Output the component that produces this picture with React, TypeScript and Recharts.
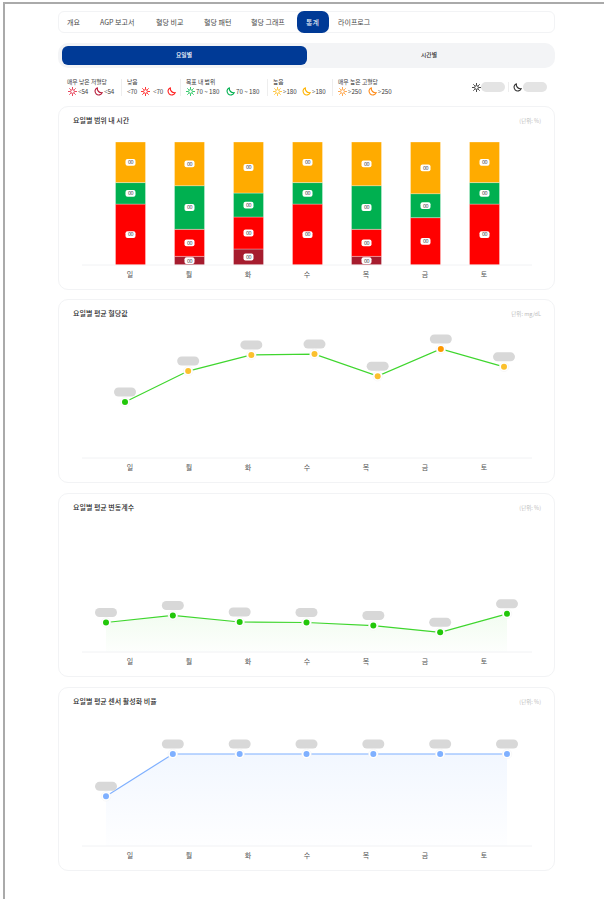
import { Area, Bar, BarChart, ComposedChart, LabelList, Line, XAxis, YAxis } from 'recharts';

const days = ['일', '월', '화', '수', '목', '금', '토'];

// time in range, percent
const veryLow = [0, 7, 13, 0, 7, 0, 0];
const low = [49.5, 22, 26, 49.5, 22, 38.5, 49.5];
const inRange = [17.5, 35.5, 19.5, 17.5, 35.5, 19.5, 17.5];
const high = [33, 35.5, 41.5, 33, 35.5, 42, 33];

const meanGlucose = [132, 205, 243, 245, 193, 257, 215];
const glucoseColors = ['#22c70a', '#fbc02d', '#fbc02d', '#fbc02d', '#fbc02d', '#ff9800', '#fbc02d'];
const variation = [24, 29.7, 24.4, 24, 21.5, 16, 31];
const activeRate = [54, 100, 100, 100, 100, 100, 100];

const tabs = ['개요', 'AGP 보고서', '혈당 비교', '혈당 패턴', '혈당 그래프', '통계', '라이프로그'];
const tabLeft = [67, 100, 156, 204, 251, 306, 338];

const tirData = days.map((day, i) => ({ day, veryLow: veryLow[i], low: low[i], inRange: inRange[i], high: high[i] }));
const glucoseData = days.map((day, i) => ({ day, value: meanGlucose[i], color: glucoseColors[i] }));
const variationData = days.map((day, i) => ({ day, value: variation[i], color: '#22c70a' }));
const activeData = days.map((day, i) => ({ day, value: activeRate[i], color: '#7fb0ff' }));

const font = '"Noto Sans CJK KR", "Noto Sans", sans-serif';
const chartMargin = { top: 36, right: 23, bottom: 0, left: 24 };

const Sun = ({ x, y, color, size = 9 }: { x: number; y: number; color: string; size?: number }) => (
  <svg width={size} height={size} viewBox="0 0 24 24" style={{ position: 'absolute', left: x - size / 2, top: y - size / 2 }}>
    <circle cx="12" cy="12" r="5" fill="none" stroke={color} strokeWidth="2.4" />
    <path
      d="M12 1v4M12 19v4M1 12h4M19 12h4M4.2 4.2l2.8 2.8M17 17l2.8 2.8M4.2 19.8L7 17M17 7l2.8-2.8"
      stroke={color}
      strokeWidth="2.4"
      strokeLinecap="round"
    />
  </svg>
);

const Moon = ({ x, y, color, size = 9 }: { x: number; y: number; color: string; size?: number }) => (
  <svg width={size} height={size} viewBox="0 0 24 24" style={{ position: 'absolute', left: x - size / 2, top: y - size / 2 }}>
    <path d="M9 2a10 10 0 1 0 13 13A11 11 0 0 1 9 2z" fill="none" stroke={color} strokeWidth="3" strokeLinejoin="round" />
  </svg>
);

const Txt = ({ x, y, size = 6.5, color = '#3a3a3a', weight = 400, children }: any) => (
  <div
    style={{
      position: 'absolute',
      left: x,
      top: y,
      transform: 'translateY(-50%)',
      fontSize: size,
      color,
      fontWeight: weight,
      lineHeight: 1,
      whiteSpace: 'nowrap',
    }}
  >
    {children}
  </div>
);

const Rt = ({ right, y, children }: any) => (
  <div
    style={{
      position: 'absolute',
      right: 604 - right,
      top: y,
      transform: 'translateY(-50%)',
      fontSize: 5.5,
      color: '#bcbcbc',
      lineHeight: 1,
      whiteSpace: 'nowrap',
    }}
  >
    {children}
  </div>
);

const Sep = ({ x }: { x: number }) => (
  <div style={{ position: 'absolute', left: x, top: 79, width: 1, height: 17, background: '#eeeeee' }} />
);

const Card = ({ top, height, title, unit }: { top: number; height: number; title: string; unit: string }) => (
  <>
    <div
      style={{
        position: 'absolute',
        left: 58,
        top,
        width: 497,
        height,
        boxSizing: 'border-box',
        border: '1px solid #f2f3f5',
        borderRadius: 10,
        background: '#fff',
      }}
    />
    <Txt x={73} y={top + 14} size={7} color="#2a2a2a" weight={500}>
      {title}
    </Txt>
    <Rt right={541} y={top + 15.5}>
      {unit}
    </Rt>
  </>
);

// white tag with the masked figure in the middle of a segment
const SegmentTag = (props: any) => {
  const { x, y, width, height, value } = props;
  if (!value) return null;
  const cx = Number(x) + Number(width) / 2;
  const cy = Number(y) + Number(height) / 2;
  return (
    <g>
      <rect x={cx - 5} y={cy - 3.4} width={10} height={6.8} rx={2} fill="#fff" />
      <text x={cx} y={cy + 1.9} textAnchor="middle" fontSize={5.5} fill="#444" letterSpacing={-0.5} fontFamily={font}>
        00
      </text>
    </g>
  );
};

// point with white halo and the grey masked value pill above it
const PointMark = (props: any) => {
  const { cx, cy, payload } = props;
  return (
    <g key={payload.day}>
      <rect x={cx - 11} y={cy - 14.5} width={22} height={9} rx={4.5} fill="#d8d8d8" />
      <circle cx={cx} cy={cy} r={4.8} fill="#fff" stroke="#f0f0f0" strokeWidth={0.5} />
      <circle cx={cx} cy={cy} r={3} fill={payload.color} />
    </g>
  );
};

const tick = { fontSize: 7, fill: '#555', fontFamily: font };

const TrendChart = ({
  data,
  domainMax,
  padLeft,
  padRight,
  stroke,
  gradientId,
  fillOpacity,
}: {
  data: { day: string; value: number; color: string }[];
  domainMax: number;
  padLeft: number;
  padRight: number;
  stroke: string;
  gradientId?: string;
  fillOpacity?: number;
}) => (
  <ComposedChart width={497} height={183} data={data} margin={chartMargin}>
    {gradientId && (
      <defs>
        <linearGradient id={gradientId} x1="0" y1="0" x2="0" y2="1">
          <stop offset="0%" stopColor={stroke} stopOpacity={fillOpacity} />
          <stop offset="100%" stopColor={stroke} stopOpacity={0.01} />
        </linearGradient>
      </defs>
    )}
    <XAxis
      xAxisId="labels"
      dataKey="day"
      scale="point"
      padding={{ left: 48, right: 48 }}
      height={24}
      interval={0}
      tickLine={false}
      tickMargin={1}
      axisLine={{ stroke: '#f1f2f4' }}
      tick={tick}
    />
    <XAxis xAxisId="points" dataKey="day" scale="point" padding={{ left: padLeft, right: padRight }} hide />
    <YAxis hide domain={[0, domainMax]} />
    {gradientId ? (
      <Area
        xAxisId="points"
        type="linear"
        dataKey="value"
        stroke={stroke}
        strokeWidth={1.2}
        fill={`url(#${gradientId})`}
        fillOpacity={1}
        dot={PointMark}
        activeDot={false}
        isAnimationActive={false}
      />
    ) : (
      <Line
        xAxisId="points"
        type="linear"
        dataKey="value"
        stroke={stroke}
        strokeWidth={1.2}
        dot={PointMark}
        activeDot={false}
        isAnimationActive={false}
      />
    )}
  </ComposedChart>
);

export default function App() {
  return (
    <div style={{ position: 'absolute', left: 0, top: 0, width: 604, height: 899, background: '#fff', overflow: 'hidden', fontFamily: font }}>
      <div style={{ position: 'absolute', left: 3, top: 2, width: 601, height: 1.5, background: '#aaaaaa' }} />
      <div style={{ position: 'absolute', left: 3, top: 2, width: 1.5, height: 897, background: '#aaaaaa' }} />

      {/* tabs */}
      <div
        style={{
          position: 'absolute',
          left: 58,
          top: 11,
          width: 497,
          height: 22,
          boxSizing: 'border-box',
          border: '1px solid #f2f3f5',
          borderRadius: 6,
        }}
      />
      <div style={{ position: 'absolute', left: 297, top: 11, width: 32, height: 22, background: '#003a96', borderRadius: 7 }} />
      {tabs.map((t, i) => (
        <Txt key={t} x={tabLeft[i]} y={22} size={7} color={t === '통계' ? '#fff' : '#4a4a4a'}>
          {t}
        </Txt>
      ))}

      {/* toggle */}
      <div style={{ position: 'absolute', left: 58, top: 43, width: 497, height: 25, background: '#f3f4f6', borderRadius: 10 }} />
      <div style={{ position: 'absolute', left: 61.5, top: 46, width: 245, height: 18.5, background: '#003a96', borderRadius: 6 }} />
      <Txt x={176} y={55} size={5.8} color="#fff" weight={500}>
        요일별
      </Txt>
      <Txt x={421} y={55} size={5.8} color="#333" weight={500}>
        시간별
      </Txt>

      {/* range legend */}
      <Txt x={67} y={82} size={5.8}>매우 낮은 저혈당</Txt>
      <Sun x={72} y={91.5} color="#e5344e" />
      <Txt x={78} y={91.5} size={6.2}>{'<54'}</Txt>
      <Moon x={98} y={91.5} color="#b71c3a" />
      <Txt x={104} y={91.5} size={6.2}>{'<54'}</Txt>
      <Sep x={121} />
      <Txt x={127} y={82} size={5.8}>낮음</Txt>
      <Txt x={127} y={91.5} size={6.2}>{'<70'}</Txt>
      <Sun x={145} y={91.5} color="#ff2020" />
      <Txt x={153} y={91.5} size={6.2}>{'<70'}</Txt>
      <Moon x={171} y={91.5} color="#ff2020" />
      <Sep x={180} />
      <Txt x={186} y={82} size={5.8}>목표 내 범위</Txt>
      <Sun x={190} y={91.5} color="#22c55e" />
      <Txt x={196} y={91.5} size={6.2}>70 ~ 180</Txt>
      <Moon x={230} y={91.5} color="#00b050" />
      <Txt x={236} y={91.5} size={6.2}>70 ~ 180</Txt>
      <Sep x={267} />
      <Txt x={273} y={82} size={5.8}>높음</Txt>
      <Sun x={277} y={91.5} color="#ffc233" />
      <Txt x={283} y={91.5} size={6.2}>{'>180'}</Txt>
      <Moon x={306} y={91.5} color="#ffb300" />
      <Txt x={312} y={91.5} size={6.2}>{'>180'}</Txt>
      <Sep x={332} />
      <Txt x={338} y={82} size={5.8}>매우 높은 고혈당</Txt>
      <Sun x={342} y={91.5} color="#ffa040" />
      <Txt x={348} y={91.5} size={6.2}>{'>250'}</Txt>
      <Moon x={372} y={91.5} color="#ff8c1a" />
      <Txt x={378} y={91.5} size={6.2}>{'>250'}</Txt>

      <Sun x={476} y={87} color="#333" />
      <div style={{ position: 'absolute', left: 481, top: 82, width: 24, height: 10, background: '#e4e4e4', borderRadius: 5 }} />
      <div style={{ position: 'absolute', left: 508, top: 82, width: 1, height: 10, background: '#eeeeee' }} />
      <Moon x={517} y={87} color="#333" />
      <div style={{ position: 'absolute', left: 523, top: 82, width: 24, height: 10, background: '#e4e4e4', borderRadius: 5 }} />

      {/* range chart */}
      <Card top={106} height={184} title="요일별 범위 내 시간" unit="(단위: %)" />
      <div style={{ position: 'absolute', left: 58, top: 106 }}>
        <BarChart width={497} height={183} data={tirData} margin={chartMargin} barSize={30}>
          <XAxis
            dataKey="day"
            padding={{ left: 18.5, right: 18.5 }}
            height={24}
            interval={0}
            tickLine={false}
            tickMargin={1}
            axisLine={{ stroke: '#f1f2f4' }}
            tick={tick}
          />
          <YAxis hide domain={[0, 100]} />
          <Bar dataKey="veryLow" stackId="a" fill="#a61c2e" stroke="#ffffff" strokeOpacity={0.3} isAnimationActive={false}>
            <LabelList dataKey="veryLow" content={SegmentTag} />
          </Bar>
          <Bar dataKey="low" stackId="a" fill="#ff0000" stroke="#ffffff" strokeOpacity={0.3} isAnimationActive={false}>
            <LabelList dataKey="low" content={SegmentTag} />
          </Bar>
          <Bar dataKey="inRange" stackId="a" fill="#00b050" stroke="#ffffff" strokeOpacity={0.3} isAnimationActive={false}>
            <LabelList dataKey="inRange" content={SegmentTag} />
          </Bar>
          <Bar dataKey="high" stackId="a" fill="#ffab00" stroke="#ffffff" strokeOpacity={0.3} isAnimationActive={false}>
            <LabelList dataKey="high" content={SegmentTag} />
          </Bar>
        </BarChart>
      </div>

      <Card top={299} height={184} title="요일별 평균 혈당값" unit="단위: mg/dL" />
      <div style={{ position: 'absolute', left: 58, top: 299 }}>
        <TrendChart data={glucoseData} domainMax={290} padLeft={43} padRight={28} stroke="#3fd62e" />
      </div>

      <Card top={493} height={184} title="요일별 평균 변동계수" unit="(단위: %)" />
      <div style={{ position: 'absolute', left: 58, top: 493 }}>
        <TrendChart
          data={variationData}
          domainMax={100}
          padLeft={24}
          padRight={25}
          stroke="#3fd62e"
          gradientId="variationFill"
          fillOpacity={0.07}
        />
      </div>

      <Card top={687} height={184} title="요일별 평균 센서 활성화 비율" unit="(단위: %)" />
      <div style={{ position: 'absolute', left: 58, top: 687 }}>
        <TrendChart
          data={activeData}
          domainMax={133.7}
          padLeft={24}
          padRight={25}
          stroke="#7fb0ff"
          gradientId="activeFill"
          fillOpacity={0.1}
        />
      </div>
    </div>
  );
}
